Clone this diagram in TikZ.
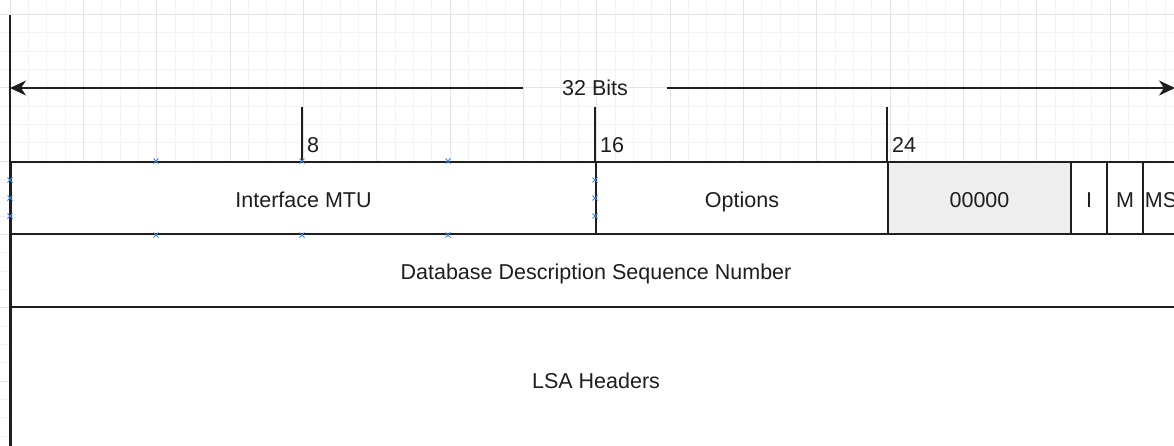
\documentclass[tikz,border=0pt]{standalone}
\usepackage{fontspec}
\setmainfont{Liberation Sans}
\usetikzlibrary{arrows.meta}
\definecolor{gridminor}{HTML}{F3F3F3}
\definecolor{gridmajor}{HTML}{E4E4E4}
\definecolor{linec}{HTML}{1E1E1E}
\definecolor{shade}{HTML}{EEEEEE}
\definecolor{marker}{HTML}{3C82E0}
\tikzset{
  field/.style={draw=linec, line width=2pt, fill=white, anchor=north west, inner sep=0pt,
    font=\fontsize{21.5}{26}\selectfont, text=linec, text height=18pt, text depth=0pt},
  tickline/.style={draw=linec, line width=2pt},
  ticklabel/.style={anchor=base west, inner sep=0pt, font=\fontsize{21.5}{26}\selectfont, text=linec},
  arrowline/.style={draw=linec, line width=2pt, -{Stealth[length=16pt,width=15pt,inset=5pt]}},
  xmark/.style={draw=marker, line width=1pt},
}
\begin{document}
\begin{tikzpicture}[x=1pt,y=-1pt]
\useasboundingbox (0,0) rectangle (1174,445);
\clip (0,0) rectangle (1174,445);
\fill[white] (0,0) rectangle (1174,445);
% grid
\foreach \i in {-1,...,64} {
  \pgfmathsetmacro{\xx}{10+18.3333*\i}
  \draw[gridminor, line width=0.8pt] (\xx,0) -- (\xx,445);
}
\foreach \i in {-1,...,25} {
  \pgfmathsetmacro{\yy}{14.333+18.3333*\i}
  \draw[gridminor, line width=0.8pt] (0,\yy) -- (1174,\yy);
}
\foreach \i in {0,...,16} {
  \pgfmathsetmacro{\xx}{10+73.3333*\i}
  \draw[gridmajor, line width=0.8pt] (\xx,0) -- (\xx,445);
}
\foreach \i in {0,...,6} {
  \pgfmathsetmacro{\yy}{14.333+73.3333*\i}
  \draw[gridmajor, line width=0.8pt] (0,\yy) -- (1174,\yy);
}
% fields
\node[field, minimum width=585pt, minimum height=72pt] (mtu) at (10,161) {Interface MTU};
\node[field, minimum width=292pt, minimum height=72pt] (opt) at (595,161) {Options};
\node[field, fill=shade, minimum width=183pt, minimum height=72pt] (zero) at (887,161) {00000};
\node[field, minimum width=36pt, minimum height=72pt] (bi) at (1070,161) {I};
\node[field, minimum width=36pt, minimum height=72pt] (bm) at (1106,161) {M};
\node[field, minimum width=36pt, minimum height=72pt] (bms) at (1142,161) {MS};
\node[field, minimum width=1170pt, minimum height=73pt] (seq) at (10,233) {Database Description Sequence Number};
\node[field, minimum width=1170pt, minimum height=145pt] (lsa) at (10,306) {LSA Headers};
% left border line
\coordinate (vtop) at (10,15);
\coordinate (vbot) at (10,450);
\draw[tickline] (vtop) -- (vbot);
% 32 bits arrow
\node[font=\fontsize{21.5}{26}\selectfont, text=linec, inner xsep=39pt, inner ysep=0pt] (bits) at (595,88) {32 Bits};
\coordinate (aleft) at (10,88);
\coordinate (aright) at (1175,88);
\draw[arrowline] (bits.west) -- (aleft);
\draw[arrowline] (bits.east) -- (aright);
% ticks
\coordinate (t8) at (302,107);
\coordinate (t16) at (595,107);
\coordinate (t24) at (887,107);
\draw[tickline] (t8) -- (t8 |- mtu.north);
\draw[tickline] (t16) -- (t16 |- mtu.north);
\draw[tickline] (t24) -- (t24 |- zero.north);
\node[ticklabel] (l8) at (307,152) {8};
\node[ticklabel] (l16) at (600,152) {16};
\node[ticklabel] (l24) at (892,152) {24};
% selection markers
\foreach \p in {(156,161),(302,161),(448,161),(156,235),(302,235),(448,235),(10,180),(10,198),(10,216),(595,180),(595,198),(595,216)} {
  \draw[xmark] \p ++(-2.5,-2.5) -- ++(5,5) \p ++(-2.5,2.5) -- ++(5,-5);
}
\end{tikzpicture}
\end{document}
